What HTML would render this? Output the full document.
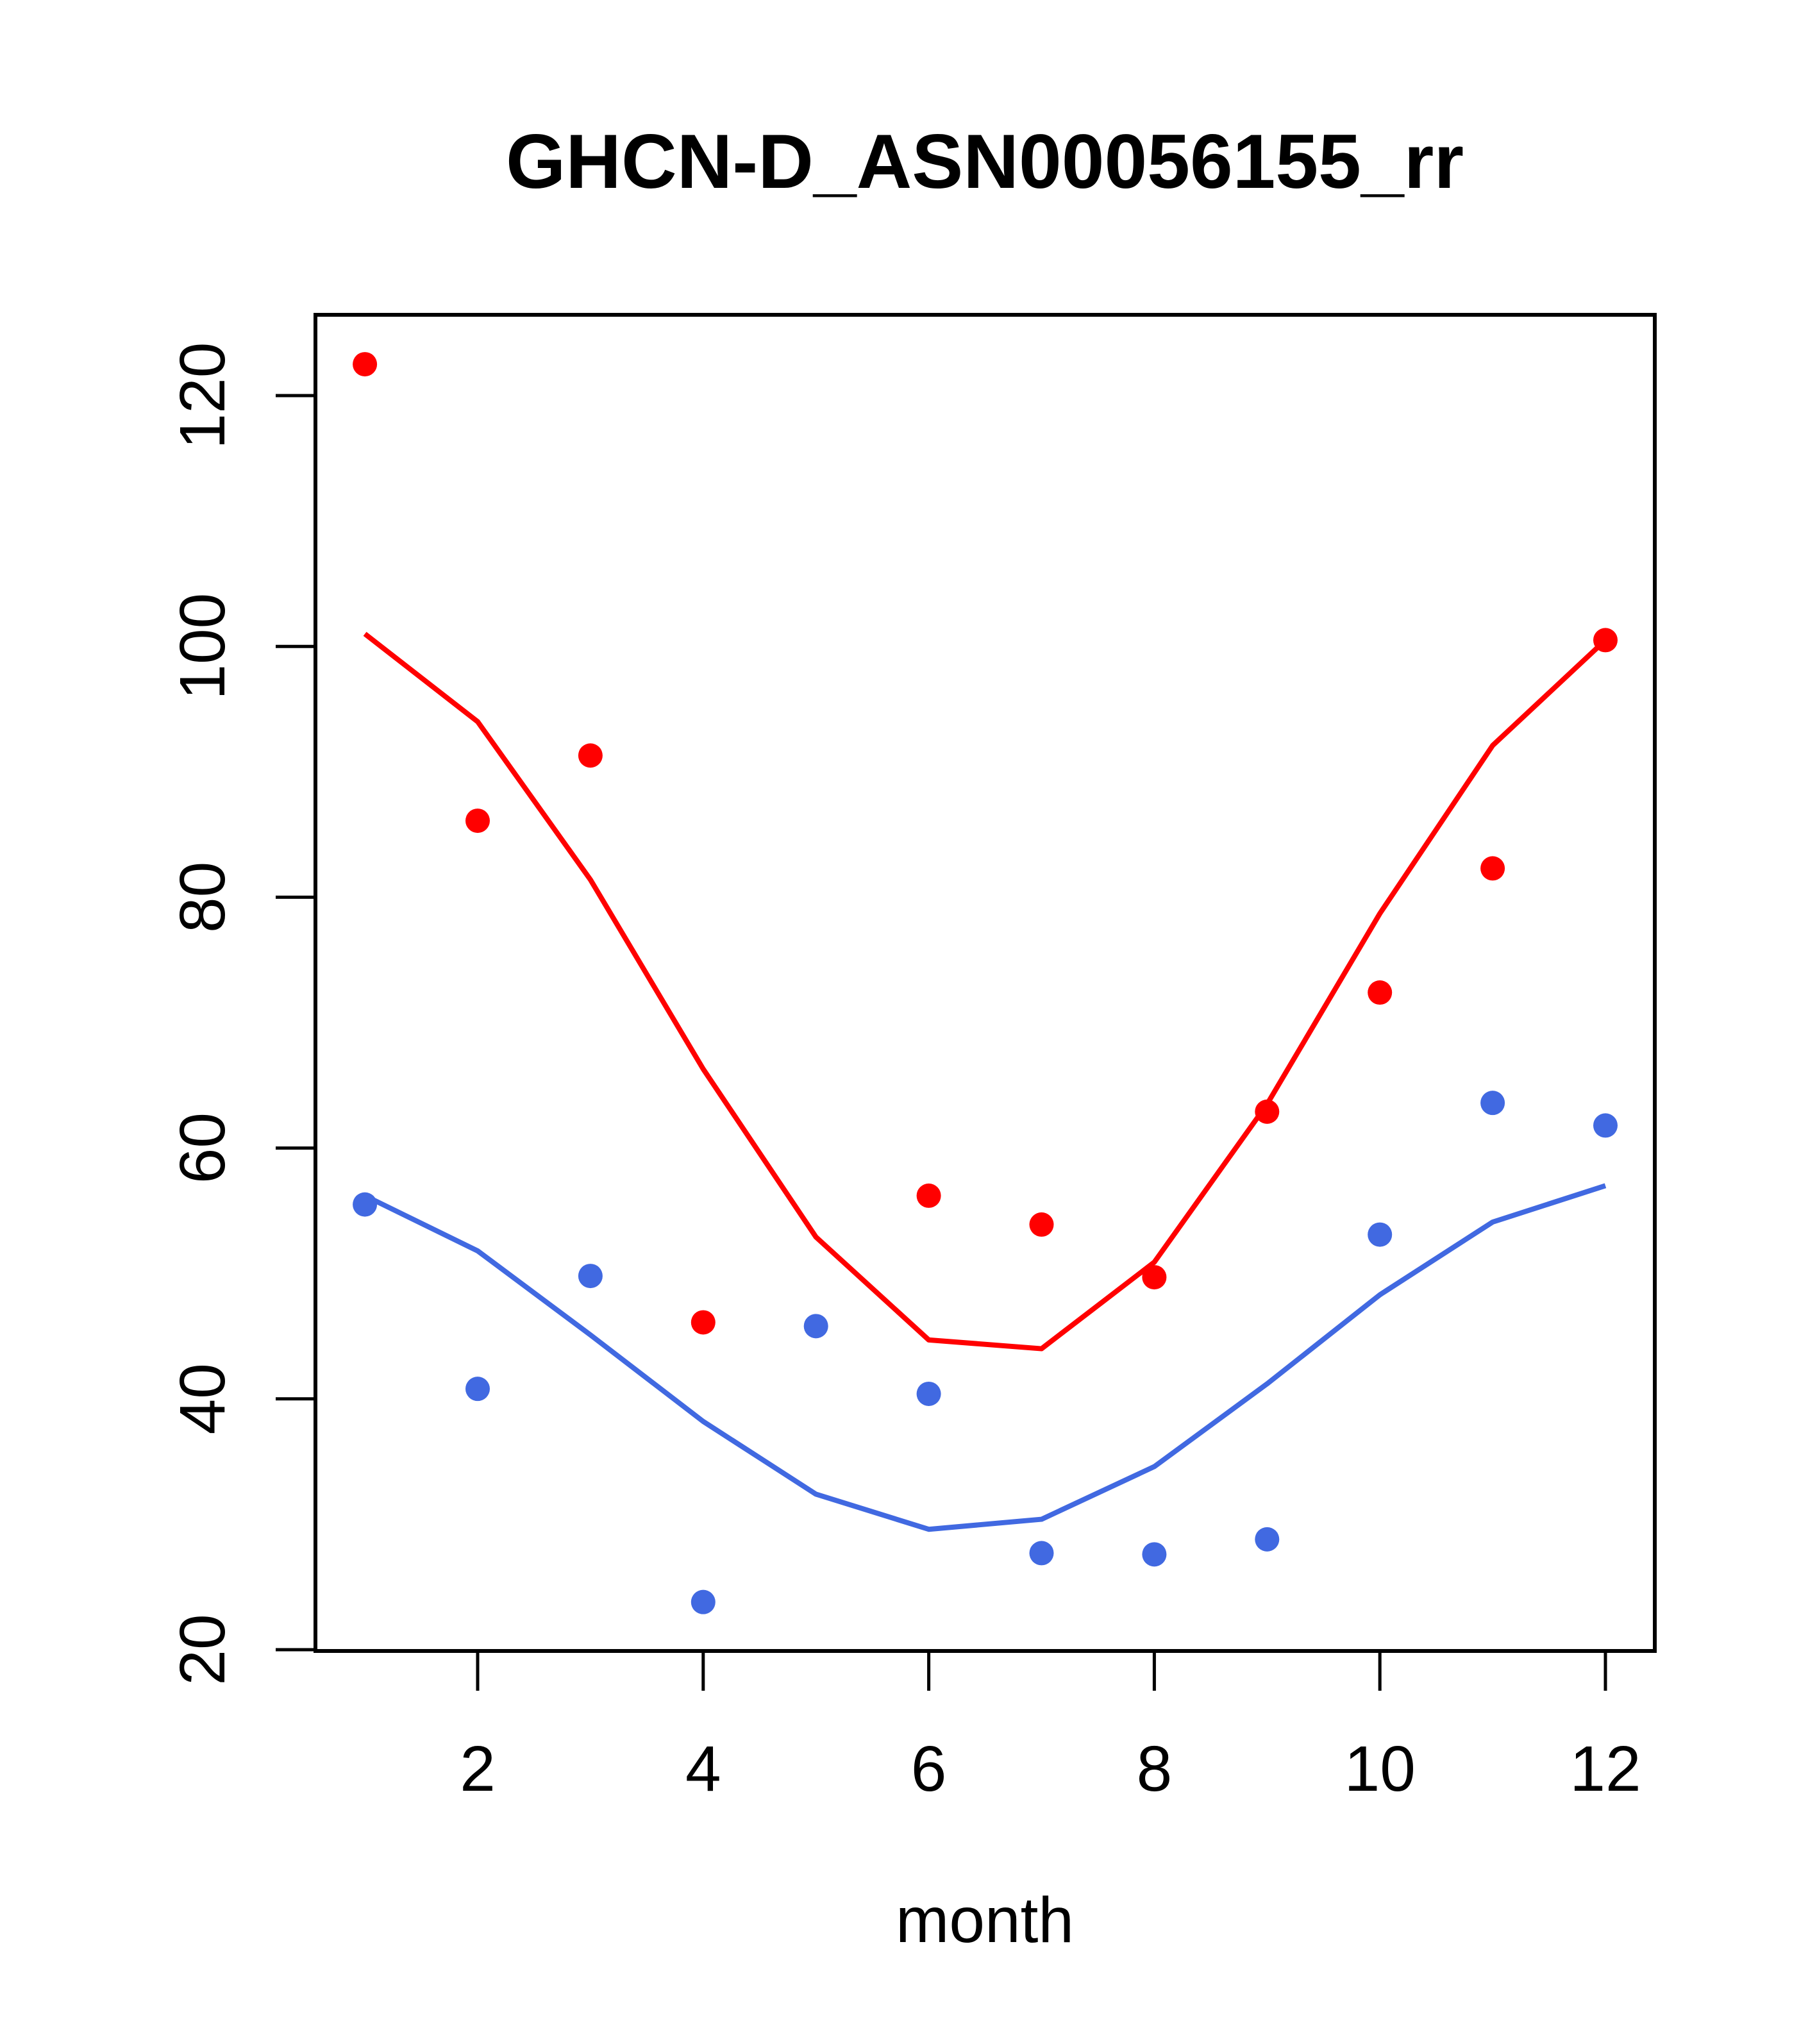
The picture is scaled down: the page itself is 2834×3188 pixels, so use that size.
<!DOCTYPE html>
<html><head><meta charset="utf-8"><style>
html,body{margin:0;padding:0;background:#fff;}
svg{display:block;}
text{font-family:"Liberation Sans",Arial,sans-serif;fill:#000;}
</style></head><body>
<svg id="chart" xmlns="http://www.w3.org/2000/svg" width="2834" height="3188" viewBox="0 0 2834 3188">
<rect width="2834" height="3188" fill="#fff"/>
<text x="1536" y="293" font-size="120" font-weight="bold" text-anchor="middle">GHCN-D_ASN00056155_rr</text>
<text x="1536" y="3029" font-size="100" text-anchor="middle">month</text>
<g id="marks"></g>
<rect x="492" y="491" width="2089" height="2084" fill="none" stroke="#000" stroke-width="6"/>
<g id="axes"></g>
</svg>
<script>
const months = [1,2,3,4,5,6,7,8,9,10,11,12];
const redPointMonths = [1,2,3,4,6,7,8,9,10,11,12];
const redPoints = [122.5,86.1,91.3,46.1,56.2,53.9,49.7,62.9,72.4,82.3,100.5];
const bluePoints = [55.5,40.8,49.8,23.8,45.8,40.4,27.7,27.6,28.8,53.1,63.6,61.8];
const redLine = [101.0,94.0,81.4,66.3,52.9,44.7,44.0,50.9,63.5,78.7,92.1,100.5];
const blueLine = [56.2,51.8,45.1,38.2,32.4,29.6,30.4,34.6,41.2,48.3,54.1,57.0];
const xTicks = [2,4,6,8,10,12];
const yTicks = [20,40,60,80,100,120];

const NS = "http://www.w3.org/2000/svg";
function xs(m){ return 745 + (m-2)*(2504-745)/10; }
function ys(v){ return 2573 - (v-20)*(2573-617)/100; }
const marks = document.getElementById('marks');
const axes = document.getElementById('axes');

function line(vals, color, name){
  const p = document.createElementNS(NS,'polyline');
  p.setAttribute('points', vals.map((v,i)=>xs(months[i])+','+ys(v)).join(' '));
  p.setAttribute('fill','none'); p.setAttribute('stroke',color);
  p.setAttribute('stroke-width','8'); p.setAttribute('stroke-linejoin','round');
  
  
  marks.appendChild(p);
}
line(redLine,'#ff0000','red-line');
line(blueLine,'#4169e1','blue-line');

function pts(ms, vals, color, name){
  vals.forEach((v,i)=>{
    const c = document.createElementNS(NS,'circle');
    c.setAttribute('cx', xs(ms[i])); c.setAttribute('cy', ys(v));
    c.setAttribute('r', 19); c.setAttribute('fill', color);
    
    
    marks.appendChild(c);
  });
}
pts(redPointMonths, redPoints, '#ff0000', 'red-point');
pts(months, bluePoints, '#4169e1', 'blue-point');

xTicks.forEach(t=>{
  const l = document.createElementNS(NS,'line');
  l.setAttribute('x1',xs(t)); l.setAttribute('x2',xs(t));
  l.setAttribute('y1',2575); l.setAttribute('y2',2637);
  l.setAttribute('stroke','#000'); l.setAttribute('stroke-width','5');
  
  
  axes.appendChild(l);
  const tx = document.createElementNS(NS,'text');
  tx.setAttribute('x',xs(t)); tx.setAttribute('y',2793);
  tx.setAttribute('font-size','100'); tx.setAttribute('text-anchor','middle');
  tx.textContent = t;
  
  
  axes.appendChild(tx);
});
yTicks.forEach(t=>{
  const l = document.createElementNS(NS,'line');
  l.setAttribute('x1',430); l.setAttribute('x2',492);
  l.setAttribute('y1',ys(t)); l.setAttribute('y2',ys(t));
  l.setAttribute('stroke','#000'); l.setAttribute('stroke-width','5');
  
  
  axes.appendChild(l);
  const tx = document.createElementNS(NS,'text');
  tx.setAttribute('x',350); tx.setAttribute('y',ys(t));
  tx.setAttribute('font-size','100'); tx.setAttribute('text-anchor','middle');
  tx.setAttribute('transform','rotate(-90,350,'+ys(t)+')');
  tx.textContent = t;
  
  
  axes.appendChild(tx);
});
</script>
</body></html>
